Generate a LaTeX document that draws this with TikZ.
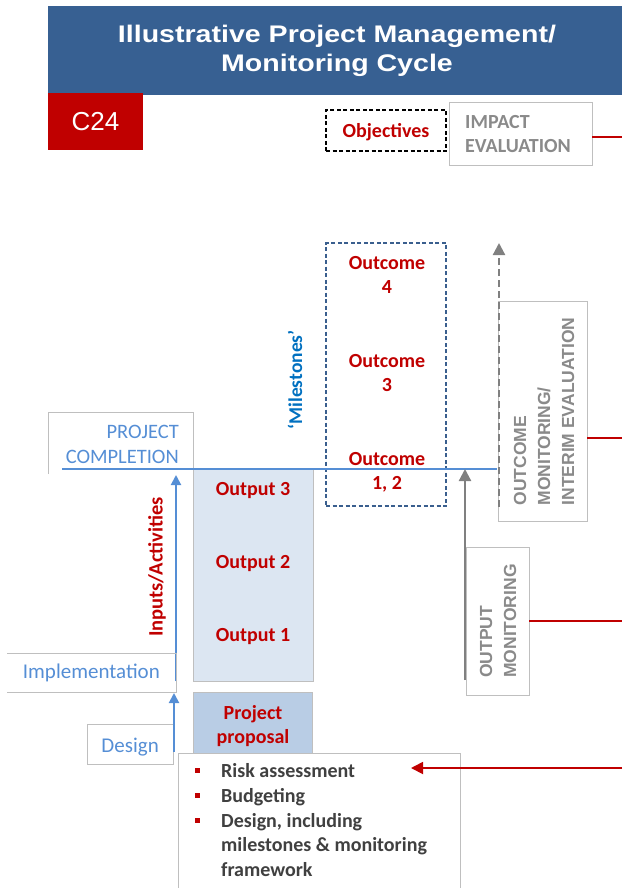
\documentclass[tikz,border=0pt]{standalone}
\usepackage{fontspec}
\setmainfont{Carlito}
\newfontfamily\arialf{Liberation Sans}
\usetikzlibrary{arrows.meta}
\definecolor{titleblue}{HTML}{376092}
\definecolor{cred}{HTML}{C00000}
\definecolor{lblue}{HTML}{558ED5}
\definecolor{mblue}{HTML}{0070C0}
\definecolor{gtext}{HTML}{8A8A8A}
\definecolor{garrow}{HTML}{808080}
\definecolor{gborder}{HTML}{BFBFBF}
\definecolor{outfill}{HTML}{DCE6F2}
\definecolor{propfill}{HTML}{B9CDE5}
\definecolor{dtext}{HTML}{404040}
\definecolor{dashblue}{HTML}{3A5F8E}
\tikzset{
  box/.style={draw=gborder, line width=0.8pt, inner sep=0pt, outer sep=0pt},
  redtxt/.style={text=cred, font=\bfseries\fontsize{20}{23.5}\selectfont, inner sep=0pt, align=center},
  bluetxt/.style={text=lblue, font=\fontsize{20.5}{24.5}\selectfont, inner sep=0pt},
  graytxt/.style={text=gtext, font=\arialf\bfseries\fontsize{17.5}{24}\selectfont, inner sep=0pt, align=left},
  bullettxt/.style={text=dtext, font=\bfseries\fontsize{20}{24.5}\selectfont, inner sep=0pt, align=left, anchor=base west},
  bulletsq/.style={fill=cred, minimum size=5pt, inner sep=0pt},
  redline/.style={draw=cred, line width=1.8pt},
  bluearrow/.style={draw=lblue, line width=2pt, -{Triangle[length=10pt, width=10pt]}},
  grayarrow/.style={draw=garrow, line width=2.2pt, -{Triangle[length=12pt, width=12pt]}},
}
\begin{document}
\begin{tikzpicture}[x=1pt, y=-1pt]
\useasboundingbox (0,0) rectangle (622,888);
% title
\node[fill=titleblue, minimum width=574pt, minimum height=89pt, inner sep=0pt, anchor=north west] (title) at (48,6) {};
\node[text=white, font=\arialf\bfseries\fontsize{24}{29}\selectfont, align=center, anchor=base, inner sep=0pt, xscale=1.19] (titletext) at (337,72) {Illustrative Project Management/\\Monitoring Cycle};
% C24
\node[fill=cred, minimum width=95pt, minimum height=57pt, inner sep=0pt, text=white, font=\arialf\fontsize{26}{26}\selectfont] (c24) at (95.5,121.5) {C24};
% objectives
\node[draw=black, line width=1.3pt, dash pattern=on 4pt off 2.5pt, minimum width=120pt, minimum height=41pt, inner sep=0pt] (obj) at (386,130.5) {};
\node[redtxt, anchor=base] (objtext) at (386,138) {Objectives};
% impact evaluation
\node[box, minimum width=143pt, minimum height=63pt] (impact) at (520.5,133.5) {};
\node[text=gtext, font=\bfseries\fontsize{20}{24}\selectfont, align=left, anchor=base west, inner sep=0pt] (impacttext) at (465,152) {IMPACT\\EVALUATION};
\coordinate (impR) at (622,137);
\draw[redline] ([yshift=-3.5pt]impact.east) -- (impR);
% outcomes
\node[draw=dashblue, line width=1.3pt, dash pattern=on 4pt off 2.5pt, minimum width=120pt, minimum height=263pt, inner sep=0pt] (outc) at (386,374.5) {};
\node[redtxt, anchor=base] (oc4) at (387,293) {Outcome\\4};
\node[redtxt, anchor=base] (oc3) at (387,391) {Outcome\\3};
\node[redtxt, anchor=base] (oc12) at (387,489) {Outcome\\1, 2};
\node[text=mblue, font=\bfseries\fontsize{19.5}{19.5}\selectfont, rotate=90, inner sep=0pt] (miles) at (295,380) {‘Milestones’};
% outcome monitoring
\node[box, minimum width=89pt, minimum height=220pt] (ocmon) at (542.5,411) {};
\node[graytxt, rotate=90] (ocmontext) at (544,411.5) {OUTCOME\\MONITORING/\\INTERIM EVALUATION};
\coordinate (ocR) at (622,438);
\draw[redline] ([yshift=-27pt]ocmon.east) -- (ocR);
\coordinate (dashA) at (499,507);
\coordinate (dashB) at (499,243);
\draw[draw=garrow, line width=2.2pt, dash pattern=on 7pt off 4pt, -{Triangle[length=12pt, width=12pt]}] (dashA) -- (dashB);
% project completion
\draw[draw=gborder, line width=0.8pt] (48,474) -- (48,412) -- (193,412) -- (193,468);
\node[bluetxt, align=right, anchor=base east] (pctext) at (179,463) {PROJECT\\COMPLETION};
% outputs
\node[box, fill=outfill, minimum width=120pt, minimum height=213pt] (outputs) at (253,574.5) {};
\node[redtxt, anchor=base] (o3) at (253,495) {Output 3};
\node[redtxt, anchor=base] (o2) at (253,568) {Output 2};
\node[redtxt, anchor=base] (o1) at (253,641) {Output 1};
% blue completion line
\coordinate (blA) at (62,468.5);
\coordinate (blB) at (497,468.5);
\draw[draw=lblue, line width=2pt] (blA) -- (blB);
% output monitoring
\node[box, minimum width=63pt, minimum height=148pt] (opmon) at (497.5,621) {};
\node[graytxt, rotate=90] (opmontext) at (498,621) {OUTPUT\\MONITORING};
\coordinate (opR) at (622,621);
\draw[redline] (opmon.east) -- (opR);
\coordinate (gaA) at (465,680);
\coordinate (gaB) at (465,469);
\draw[grayarrow] (gaA) -- (gaB);
% inputs / activities
\coordinate (baA) at (176,681);
\coordinate (baB) at (176,475);
\draw[bluearrow] (baA) -- (baB);
\node[text=cred, font=\bfseries\fontsize{20.5}{20.5}\selectfont, rotate=90, inner sep=0pt] (inputs) at (157,567) {Inputs/Activities};
% implementation
\draw[draw=gborder, line width=0.8pt] (7,653) -- (176,653) -- (176,692) -- (7,692);
\node[bluetxt, font=\fontsize{21}{21}\selectfont, anchor=base east] (impl) at (160,678) {Implementation};
% design
\node[box, minimum width=86pt, minimum height=40pt] (design) at (130,744) {};
\node[bluetxt, font=\fontsize{21}{21}\selectfont, anchor=base east] (designtext) at (159,752) {Design};
\coordinate (bdA) at (174,752);
\coordinate (bdB) at (174,693);
\draw[bluearrow] (bdA) -- (bdB);
% project proposal
\node[box, fill=propfill, minimum width=119pt, minimum height=62pt] (prop) at (252.5,723) {};
\node[redtxt, anchor=base] (proptext) at (253,743) {Project\\proposal};
% bullet box
\node[box, fill=white, minimum width=282pt, minimum height=150pt, anchor=north west] (bullets) at (178,753) {};
\node[bulletsq] (b1) at (197,770) {};
\node[bulletsq] (b2) at (197,795) {};
\node[bulletsq] (b3) at (197,820) {};
\node[bullettxt] (t1) at (221,777) {Risk assessment};
\node[bullettxt] (t2) at (221,802) {Budgeting};
\node[bullettxt] (t3) at (221,876) {Design, including\\milestones \& monitoring\\framework};
\coordinate (raA) at (622,768);
\coordinate (raB) at (411,768);
\draw[redline, -{Triangle[length=12pt, width=12pt]}] (raA) -- (raB);
\end{tikzpicture}
\end{document}
